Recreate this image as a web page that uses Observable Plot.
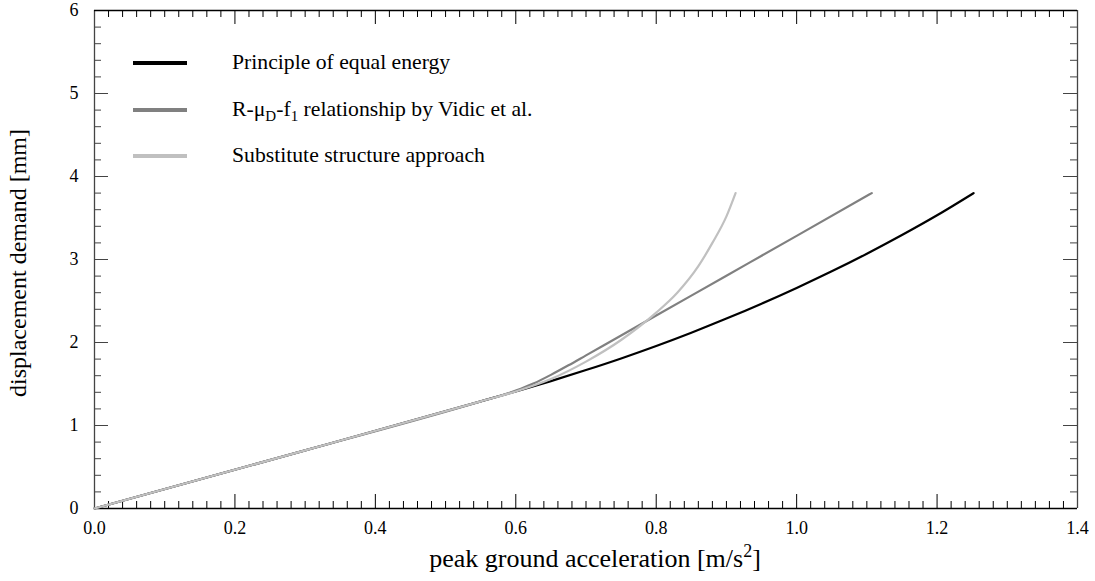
<!DOCTYPE html>
<html>
<head>
<meta charset="utf-8">
<script src="https://cdn.jsdelivr.net/npm/d3@7"></script>
<script src="https://cdn.jsdelivr.net/npm/@observablehq/plot@0.6"></script>
<style>
  body { margin: 0; background: #fff; }
  #chart { width: 1095px; height: 581px; }
</style>
</head>
<body>
<div id="chart"></div>
<script>
// ---------- data ----------
const seriesNames = ["Principle of equal energy", "R-μD-f1 relationship by Vidic et al.", "Substitute structure approach"];
const seriesColors = ["#000000", "#808080", "#c0c0c0"];

const pgaEqualEnergy  = [0, 0.30, 0.55, 0.60, 0.65, 0.70, 0.75, 0.80, 0.85, 0.90, 0.95, 1.00, 1.05, 1.10, 1.15, 1.20, 1.252];
const dispEqualEnergy = [0, 0.70, 1.29, 1.41, 1.535, 1.668, 1.808, 1.958, 2.118, 2.288, 2.468, 2.658, 2.858, 3.07, 3.295, 3.533, 3.80];

const pgaVidic  = [0, 0.30, 0.55, 0.60, 0.625, 0.65, 0.675, 0.70, 0.75, 0.80, 0.90, 1.00, 1.107];
const dispVidic = [0, 0.70, 1.29, 1.42, 1.505, 1.61, 1.725, 1.845, 2.085, 2.325, 2.805, 3.285, 3.80];

const pgaSubstitute  = [0, 0.30, 0.55, 0.60, 0.65, 0.70, 0.75, 0.80, 0.83, 0.86, 0.88, 0.90, 0.913];
const dispSubstitute = [0, 0.70, 1.29, 1.41, 1.56, 1.77, 2.03, 2.36, 2.60, 2.92, 3.20, 3.52, 3.80];

const xTicks = [0, 0.2, 0.4, 0.6, 0.8, 1.0, 1.2, 1.4];
const yTicks = [0, 1, 2, 3, 4, 5, 6];
const xTitle = "peak ground acceleration [m/s";
const yTitle = "displacement demand [mm]";

// ---------- build table ----------
const seriesX = [pgaEqualEnergy, pgaVidic, pgaSubstitute];
const seriesY = [dispEqualEnergy, dispVidic, dispSubstitute];
const rows = [];
seriesNames.forEach((name, s) => {
  seriesX[s].forEach((x, i) => rows.push({x, y: seriesY[s][i], series: name}));
});

// ---------- layout ----------
const W = 1095, H = 581;
const mL = 94, mR = 18, mT = 10, mB = 73;
const fw = W - mL - mR, fh = H - mT - mB;
const FONT = "'Liberation Serif', 'Times New Roman', serif";

const xMinor = d3.range(0, 71).map(i => +(i * 0.02).toFixed(4)).filter(v => !xTicks.some(t => Math.abs(t - v) < 1e-9));
const yMinor = d3.range(0, 31).map(i => +(i * 0.2).toFixed(4)).filter(v => !yTicks.some(t => Math.abs(t - v) < 1e-9));

const sideStroke = "#444";

const plot = Plot.plot({
  width: W, height: H,
  marginLeft: mL, marginRight: mR, marginTop: mT, marginBottom: mB,
  style: {background: "#fff", color: "#000", fontFamily: FONT},
  x: {domain: [0, 1.4]},
  y: {domain: [0, 6]},
  color: {domain: seriesNames, range: seriesColors},
  marks: [
    Plot.axisX(xTicks, {tickSize: 0, tickPadding: 13, fontSize: 18, fill: "#000", tickFormat: d3.format(".1f"), label: null}),
    Plot.axisY(yTicks, {tickSize: 0, tickPadding: 16, fontSize: 18, fill: "#000", tickFormat: d3.format("d"), label: null}),
    // bottom / top ticks
    Plot.tickX(xTicks, {x: d => d, insetTop: fh - 14, stroke: "#000"}),
    Plot.tickX(xTicks, {x: d => d, insetBottom: fh - 14, stroke: "#000"}),
    Plot.tickX(xMinor, {x: d => d, insetTop: fh - 7, stroke: "#000"}),
    Plot.tickX(xMinor, {x: d => d, insetBottom: fh - 7, stroke: "#000"}),
    // left / right ticks
    Plot.tickY(yTicks, {y: d => d, insetRight: fw - 14, stroke: sideStroke}),
    Plot.tickY(yTicks, {y: d => d, insetLeft: fw - 14, stroke: sideStroke}),
    Plot.tickY(yMinor, {y: d => d, insetRight: fw - 7, stroke: sideStroke}),
    Plot.tickY(yMinor, {y: d => d, insetLeft: fw - 7, stroke: sideStroke}),
    // frame
    Plot.ruleX([0, 1.4], {stroke: sideStroke, strokeWidth: 1.3}),
    Plot.ruleY([0, 6], {stroke: "#000", strokeWidth: 1.3}),
    // data
    Plot.line(rows, {x: "x", y: "y", z: "series", stroke: "series", strokeWidth: 2.2, curve: "monotone-x"})
  ]
});

const svg = d3.select(plot);

// x-axis title with superscript
const xt = svg.append("text")
  .attr("x", 595).attr("y", 567)
  .attr("text-anchor", "middle")
  .attr("font-size", 26).attr("fill", "#000");
xt.append("tspan").text(xTitle);
xt.append("tspan").attr("dy", -10).attr("font-size", 18).text("2");
xt.append("tspan").attr("dy", 10).text("]");

// y-axis title
svg.append("text")
  .attr("transform", "translate(26,263) rotate(-90)")
  .attr("text-anchor", "middle")
  .attr("font-size", 24).attr("fill", "#000")
  .text(yTitle);

// legend
const legendParts = [
  [{t: "Principle of equal energy"}],
  [{t: "R-μ"}, {t: "D", sub: true}, {t: "-f"}, {t: "1", sub: true}, {t: " relationship by Vidic et al."}],
  [{t: "Substitute structure approach"}]
];
const legendY = [63, 110, 156];
const lg = svg.append("g");
seriesNames.forEach((name, i) => {
  lg.append("line")
    .attr("x1", 133).attr("x2", 187)
    .attr("y1", legendY[i]).attr("y2", legendY[i])
    .attr("stroke", seriesColors[i]).attr("stroke-width", 4);
  const tx = lg.append("text")
    .attr("x", 232).attr("y", legendY[i] + 5.5)
    .attr("text-anchor", "start")
    .attr("font-size", 21.7).attr("fill", "#000");
  let shifted = false;
  legendParts[i].forEach(p => {
    const ts = tx.append("tspan").text(p.t);
    if (p.sub && !shifted) { ts.attr("dy", 5).attr("font-size", 15); shifted = true; }
    else if (p.sub && shifted) { ts.attr("font-size", 15); }
    else if (!p.sub && shifted) { ts.attr("dy", -5); shifted = false; }
  });
});

// force the serif family on every text element
svg.selectAll("text").attr("font-family", FONT).style("font-family", FONT);

document.getElementById("chart").appendChild(plot);
</script>
</body>
</html>
